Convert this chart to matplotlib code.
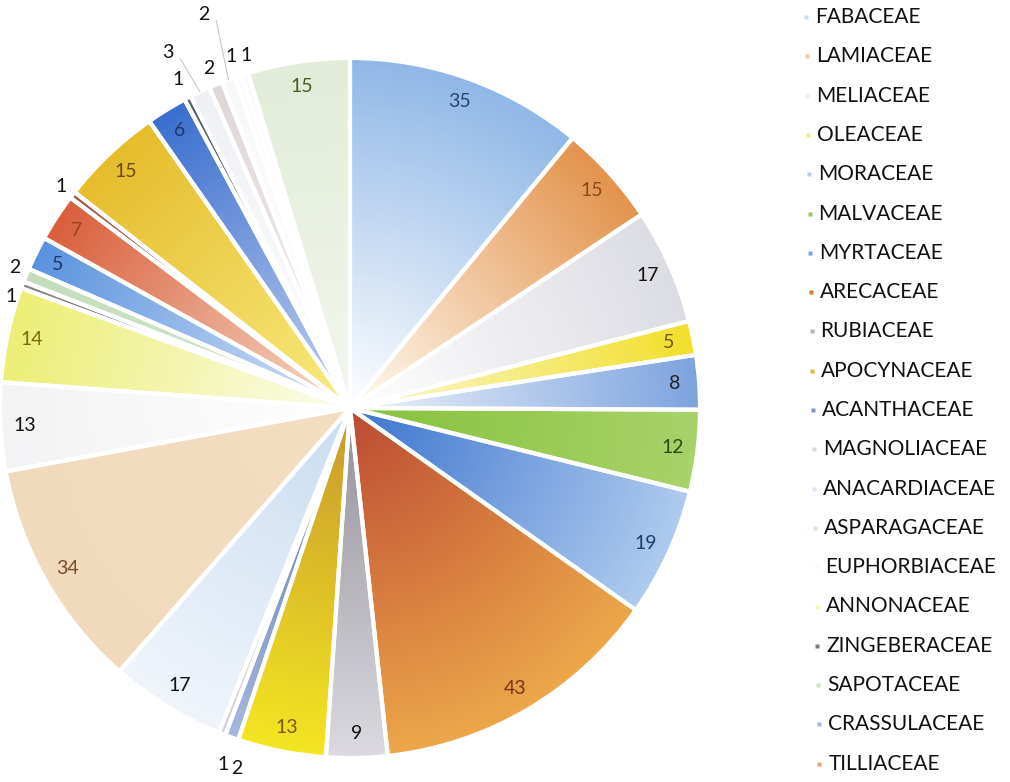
import numpy as np
import matplotlib.pyplot as plt
from matplotlib.colors import to_rgb
from matplotlib.patches import Circle

plt.rcParams['font.family'] = ['Lato', 'DejaVu Sans']

# number of species per family, clockwise from 12 o'clock
counts = [35, 15, 17, 5, 8, 12, 19, 43, 9, 13, 2, 1, 17, 34, 13, 14,
          1, 2, 5, 7, 1, 15, 6, 1, 3, 2, 2, 1, 1, 15]

families = ["FABACEAE", "LAMIACEAE", "MELIACEAE", "OLEACEAE", "MORACEAE",
            "MALVACEAE", "MYRTACEAE", "ARECACEAE", "RUBIACEAE", "APOCYNACEAE",
            "ACANTHACEAE", "MAGNOLIACEAE", "ANACARDIACEAE", "ASPARAGACEAE",
            "EUPHORBIACEAE", "ANNONACEAE", "ZINGEBERACEAE", "SAPOTACEAE",
            "CRASSULACEAE", "TILLIACEAE"]

# gradient fill of each slice: colour at the centre -> colour at the rim
inner_colors = ['#FFFFFF', '#FFFCF4', '#FFFFFF', '#FBF8D8', '#F0F4FB', '#86C23C',
                '#3C74CE', '#BC4A33', '#938F99', '#C7972E', '#5A74B0', '#E0E0E4',
                '#C9DCF1', '#F4DEC2', '#FFFFFF', '#FCFDEE', '#707070', '#D4E8D0',
                '#D8E5F6', '#F6DCC8', '#9A6A5A', '#F8EC80', '#C6D2F2', '#6A7080',
                '#FFFFFF', '#F4EEF0', '#FFFFFF', '#FFFFFF', '#FFFFFF', '#F2F7EE']
outer_colors = ['#8FB7E7', '#E3934C', '#DCDCE4', '#F2DF2A', '#7CA3DF', '#A8D26A',
                '#AFCBEF', '#EDA84A', '#DCDAE0', '#F4E622', '#A7B8DC', '#D0D0D6',
                '#F0F5FB', '#F1DABC', '#F3F3F5', '#ECEE74', '#8A8A8A', '#C3DDBB',
                '#5A92DF', '#D95E3C', '#A05848', '#E6BC2C', '#3A6ECE', '#5A6070',
                '#EEF0F4', '#E0D6D8', '#F8F8F8', '#FAFAFA', '#FAFAFA', '#E2ECD8']
label_colors = ['#2B4570', '#8B4A1C', '#111111', '#6B5A10', '#222222', '#2E4A12',
                '#1E3A6B', '#7A3218', '#111111', '#7A5A10', '#111111', '#111111',
                '#111111', '#7A4A28', '#111111', '#7A6A10', '#111111', '#111111',
                '#1E3A6B', '#A04020', '#111111', '#6B4A10', '#1E3A6B', '#111111',
                '#111111', '#111111', '#111111', '#111111', '#111111', '#4A5A20']

# label placement: distance from the centre (fraction of radius) and angle nudge
label_r = [0.93] * len(counts)
label_shift = [0.0] * len(counts)
for i, rr in {10: 1.08, 11: 1.08, 16: 1.02, 17: 1.04, 20: 1.04, 23: 1.06,
              24: 1.14, 25: 1.05, 26: 1.2, 27: 1.06, 28: 1.05}.items():
    label_r[i] = rr
for i, da in {10: -2.3, 11: -1.8, 16: -2.4, 17: 0.5, 24: -1.7, 28: 1.0}.items():
    label_shift[i] = da

W, H = 1010, 782
cx, cy, R = 350, H - 408, 350

fig = plt.figure(figsize=(W / 100, H / 100), dpi=100)
ax = fig.add_axes([0, 0, 1, 1])

n = len(counts)
total = sum(counts)
wedges, _ = ax.pie(counts, startangle=90, counterclock=False, radius=R,
                   center=(cx, cy), colors=['none'] * n, frame=True,
                   wedgeprops=dict(edgecolor='white', linewidth=3))

# radial gradient image, one colour ramp per slice
edges = np.cumsum(counts) / total * 360
yy, xx = np.mgrid[0:H, 0:W] + 0.5
dx, dy = xx - cx, yy - cy
r = np.clip(np.hypot(dx, dy) / R, 0, 1)[..., None]
theta = np.degrees(np.arctan2(dx, dy)) % 360
idx = np.clip(np.searchsorted(edges, theta, side='right'), 0, n - 1)
inner = np.array([to_rgb(c) for c in inner_colors])[idx]
outer = np.array([to_rgb(c) for c in outer_colors])[idx]
rgb = inner + (outer - inner) * r
im = ax.imshow(rgb, extent=(0, W, 0, H), origin='lower', zorder=0,
               interpolation='bilinear')
im.set_clip_path(Circle((cx, cy), R, transform=ax.transData))

# value labels
mids = edges - np.array(counts) / total * 180
for i, v in enumerate(counts):
    a = np.radians(mids[i] + label_shift[i])
    rr = label_r[i] * R
    lx, ly = cx + rr * np.sin(a), cy + rr * np.cos(a)
    ax.text(lx, ly, str(v), ha='center', va='center', fontsize=14,
            color=label_colors[i])
    if label_r[i] > 1.1:
        am = np.radians(mids[i])
        ex, ey = cx + R * np.sin(am), cy + R * np.cos(am)
        ax.plot([lx + 12, ex], [ly - 6, ey], color='#C8C8C8', lw=0.8)

# legend column
for j, name in enumerate(families):
    y = H - (17 + 39.3 * j)
    x = 815 + 0.7 * j
    mc = 0.5 * (np.array(to_rgb(inner_colors[j])) + np.array(to_rgb(outer_colors[j])))
    ax.plot(x - 9, y, 's', ms=3.5, color=mc, mec='none')
    ax.text(x, y, name, ha='left', va='center', fontsize=15, color='#111111')

ax.set_xlim(0, W)
ax.set_ylim(0, H)
ax.axis('off')
fig.savefig('out.png', dpi=100, facecolor='white')
